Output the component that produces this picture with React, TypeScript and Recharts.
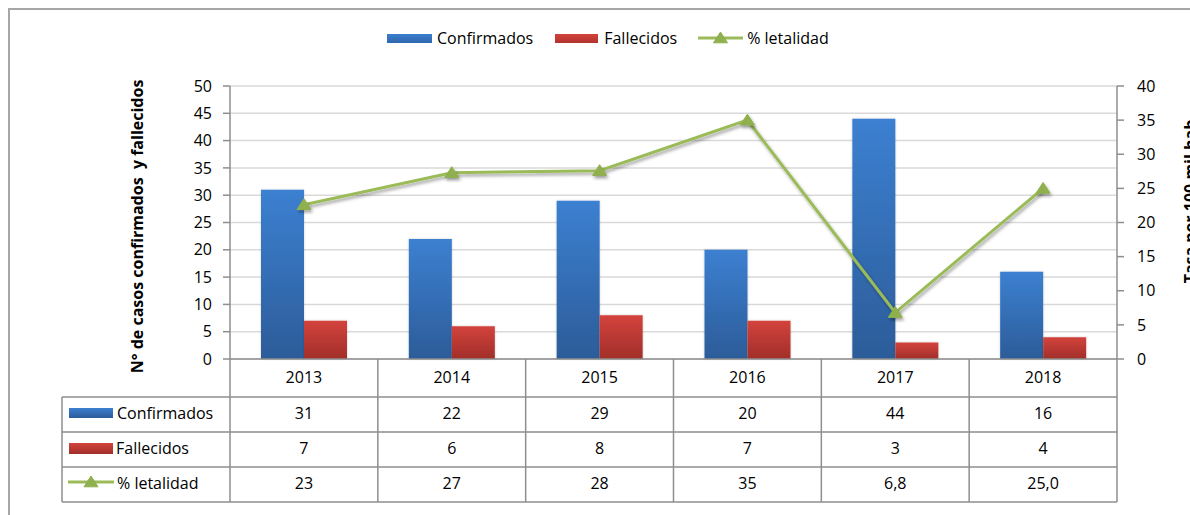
import React from 'react';
import { ComposedChart, Bar, Line, XAxis, YAxis, CartesianGrid, Legend } from 'recharts';

const years = ['2013', '2014', '2015', '2016', '2017', '2018'];
const confirmados = [31, 22, 29, 20, 44, 16];
const fallecidos = [7, 6, 8, 7, 3, 4];
const letalidad = [22.6, 27.3, 27.6, 35, 6.8, 25];
const letalidadLabels = ['23', '27', '28', '35', '6,8', '25,0'];
const leftTicks = [0, 5, 10, 15, 20, 25, 30, 35, 40, 45, 50];
const rightTicks = [0, 5, 10, 15, 20, 25, 30, 35, 40];
const seriesNames = ['Confirmados', 'Fallecidos', '% letalidad'];
const leftTitle = 'N° de casos confirmados \u00A0y fallecidos';
const rightTitle = 'Tasa por 100 mil hab';

const data = years.map((y, i) => ({
  year: y,
  confirmados: confirmados[i],
  fallecidos: fallecidos[i],
  letalidad: letalidad[i],
}));

// layout
const W = 1190;
const H = 515;
const PLOT_LEFT = 230;
const PLOT_RIGHT = 1117;
const PLOT_W = PLOT_RIGHT - PLOT_LEFT;
const AXIS_Y = 359;
const ROWS = [397, 432, 467, 502];
const TABLE_LEFT = 62;
const BAND = PLOT_W / years.length;
const FONT = "'Open Sans', sans-serif";
const GRID = '#8e8e8e';
const GREEN = '#9bbb59';

const Triangle = ({ cx, cy, size = 1 }: any) => {
  const w = 7 * size;
  const h = 6 * size;
  return (
    <polygon
      points={`${cx},${cy - h} ${cx + w},${cy + h * 0.8} ${cx - w},${cy + h * 0.8}`}
      fill="#8fb04e"
      stroke="#8fb04e"
      strokeWidth={1}
    />
  );
};

const LineDot = (props: any) => {
  const { cx, cy, index } = props;
  if (cx == null || cy == null) return <g key={index} />;
  return (
    <g key={index} filter="url(#shadow)">
      <Triangle cx={cx} cy={cy} />
    </g>
  );
};

const TableTick = (props: any) => {
  const { payload, index } = props;
  const cx = payload.coordinate;
  const i = index;
  const rightX = cx + BAND / 2;
  const rowMid = (r: number) => (ROWS[r] + ROWS[r + 1]) / 2;
  return (
    <g>
      <text x={cx} y={(AXIS_Y + ROWS[0]) / 2 + 1} textAnchor="middle" dominantBaseline="middle" fontSize={16} fill="#000" fontFamily={FONT}>
        {payload.value}
      </text>
      <line x1={rightX} y1={AXIS_Y} x2={rightX} y2={ROWS[3]} stroke={GRID} strokeWidth={1.5} />
      <text x={cx} y={rowMid(0)} textAnchor="middle" dominantBaseline="middle" fontSize={16} fill="#000" fontFamily={FONT}>
        {confirmados[i]}
      </text>
      <text x={cx} y={rowMid(1)} textAnchor="middle" dominantBaseline="middle" fontSize={16} fill="#000" fontFamily={FONT}>
        {fallecidos[i]}
      </text>
      <text x={cx} y={rowMid(2)} textAnchor="middle" dominantBaseline="middle" fontSize={16} fill="#000" fontFamily={FONT}>
        {letalidadLabels[i]}
      </text>
      {i === 0 && (
        <g>
          {ROWS.map((ry) => (
            <line key={ry} x1={TABLE_LEFT} y1={ry} x2={PLOT_RIGHT} y2={ry} stroke={GRID} strokeWidth={1.5} />
          ))}
          <line x1={TABLE_LEFT} y1={ROWS[0]} x2={TABLE_LEFT} y2={ROWS[3]} stroke={GRID} strokeWidth={1.5} />
          <line x1={PLOT_LEFT} y1={AXIS_Y} x2={PLOT_LEFT} y2={ROWS[3]} stroke={GRID} strokeWidth={1.5} />
          <rect x={69} y={408} width={44} height={10} fill="url(#gBlue)" />
          <text x={117} y={rowMid(0)} dominantBaseline="middle" fontSize={16} fill="#000" fontFamily={FONT}>{seriesNames[0]}</text>
          <rect x={69} y={443} width={44} height={11} fill="url(#gRed)" />
          <text x={116} y={rowMid(1)} dominantBaseline="middle" fontSize={16} fill="#000" fontFamily={FONT}>{seriesNames[1]}</text>
          <line x1={68} y1={482} x2={114} y2={482} stroke={GREEN} strokeWidth={3} />
          <Triangle cx={91} cy={482} />
          <text x={117} y={rowMid(2)} dominantBaseline="middle" fontSize={16} fill="#000" fontFamily={FONT}>{seriesNames[2]}</text>
        </g>
      )}
    </g>
  );
};

const LegendContent = () => (
  <div style={{ display: 'flex', alignItems: 'center', paddingLeft: 387, fontFamily: FONT, fontSize: 16, color: '#000', height: 24 }}>
    <span style={{ display: 'inline-block', width: 45, height: 9, background: 'linear-gradient(#3b7ecf, #2f67ad)', marginRight: 5 }} />
    <span style={{ marginRight: 22 }}>{seriesNames[0]}</span>
    <span style={{ display: 'inline-block', width: 43, height: 9, background: 'linear-gradient(#d2423b, #b3332e)', marginRight: 6 }} />
    <span style={{ marginRight: 21 }}>{seriesNames[1]}</span>
    <svg width={45} height={14} style={{ marginRight: 4 }}>
      <line x1={0} y1={7} x2={45} y2={7} stroke={GREEN} strokeWidth={3} />
      <Triangle cx={22.5} cy={7} />
    </svg>
    <span>{seriesNames[2]}</span>
  </div>
);

export default function App() {
  return (
    <div style={{ position: 'fixed', left: 0, top: 0, width: W, height: H, overflow: 'hidden', background: '#fff', fontFamily: FONT }}>
      <div style={{ position: 'absolute', left: 8, top: 8, width: W + 20, height: H + 20, border: '2px solid #a6a6a6', boxSizing: 'border-box' }} />
      <div style={{ position: 'absolute', left: 0, top: 0 }}>
        <ComposedChart
          width={W}
          height={H}
          data={data}
          margin={{ top: 86, right: 13, bottom: 118, left: 170 }}
          barSize={43}
          barGap={0}
          style={{ fontFamily: FONT }}
        >
          <defs>
            <linearGradient id="gBlue" x1="0" y1="0" x2="0" y2="1">
              <stop offset="0%" stopColor="#3c80d1" />
              <stop offset="100%" stopColor="#2c5c99" />
            </linearGradient>
            <linearGradient id="gRed" x1="0" y1="0" x2="0" y2="1">
              <stop offset="0%" stopColor="#d3433c" />
              <stop offset="100%" stopColor="#a12e2a" />
            </linearGradient>
            <filter id="shadow" x="-50%" y="-50%" width="200%" height="200%">
              <feDropShadow dx="1.5" dy="2.5" stdDeviation="1.8" floodColor="#000" floodOpacity="0.35" />
            </filter>
            <filter id="barShadow" x="-20%" y="-20%" width="140%" height="140%">
              <feDropShadow dx="0" dy="0" stdDeviation="1.2" floodColor="#000" floodOpacity="0.2" />
            </filter>
          </defs>
          <CartesianGrid yAxisId="left" vertical={false} stroke="#d9d9d9" strokeWidth={1.5} />
          <XAxis
            dataKey="year"
            height={38}
            axisLine={{ stroke: GRID, strokeWidth: 1.5 }}
            tickLine={false}
            interval={0}
            tick={<TableTick />}
          />
          <YAxis
            yAxisId="left"
            width={60}
            domain={[0, 50]}
            ticks={leftTicks}
            interval={0}
            tickSize={7}
            tickMargin={11}
            axisLine={{ stroke: GRID, strokeWidth: 1.5 }}
            tickLine={{ stroke: GRID, strokeWidth: 1.5 }}
            tick={{ fill: '#000', fontSize: 16, fontFamily: FONT }}
            label={{ value: leftTitle, angle: -90, position: 'center', dx: -63, dy: 4, style: { fontWeight: 700, fontSize: 16, fill: '#000', fontFamily: FONT } }}
          />
          <YAxis
            yAxisId="right"
            orientation="right"
            width={60}
            domain={[0, 40]}
            ticks={rightTicks}
            interval={0}
            tickSize={7}
            tickMargin={13}
            axisLine={{ stroke: GRID, strokeWidth: 1.5 }}
            tickLine={{ stroke: GRID, strokeWidth: 1.5 }}
            tick={{ fill: '#000', fontSize: 16, fontFamily: FONT }}
            label={{ value: rightTitle, angle: -90, position: 'center', dx: 43, dy: -21, style: { fontWeight: 700, fontSize: 16, fill: '#000', fontFamily: FONT } }}
          />
          <Legend
            layout="horizontal"
            verticalAlign="middle"
            align="center"
            wrapperStyle={{ top: 26, left: 0, width: W, height: 24 }}
            content={<LegendContent />}
          />
          <Bar yAxisId="left" dataKey="confirmados" name={seriesNames[0]} fill="url(#gBlue)" isAnimationActive={false} filter="url(#barShadow)" />
          <Bar yAxisId="left" dataKey="fallecidos" name={seriesNames[1]} fill="url(#gRed)" isAnimationActive={false} filter="url(#barShadow)" />
          <Line
            yAxisId="right"
            dataKey="letalidad"
            name={seriesNames[2]}
            stroke={GREEN}
            strokeWidth={3}
            dot={<LineDot />}
            activeDot={false}
            isAnimationActive={false}
            filter="url(#shadow)"
          />
        </ComposedChart>
      </div>
    </div>
  );
}
